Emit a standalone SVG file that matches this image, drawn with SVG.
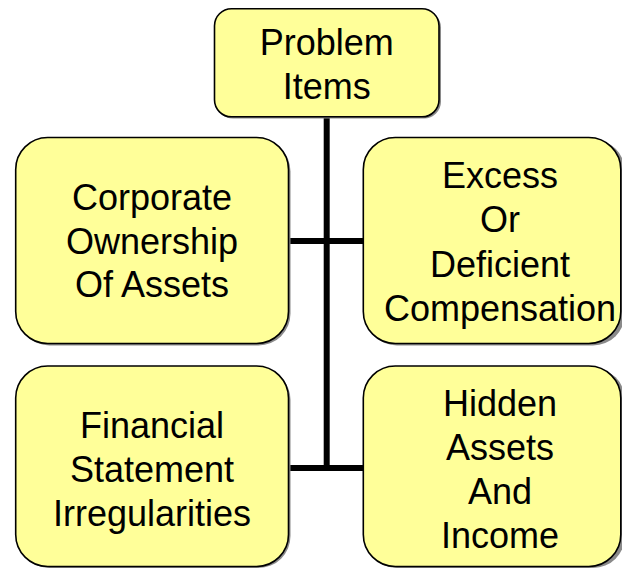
<svg xmlns="http://www.w3.org/2000/svg" width="622" height="568" viewBox="0 0 622 568">
<style>
.box{fill:#FFFF99;stroke:#000;stroke-width:1.6}
.sh{fill:#8a8a8a}
.t{font-family:"Liberation Sans",Arial,sans-serif;font-size:36px;fill:#000;text-anchor:middle}
.c{stroke:#000;stroke-width:6;fill:none}
</style>
<rect width="622" height="568" fill="#fff"/>
<g id="connectors">
<line class="c" x1="326.7" y1="117" x2="326.7" y2="471"/>
<line class="c" x1="288" y1="241" x2="364" y2="241"/>
<line class="c" x1="288" y1="468" x2="364" y2="468"/>
</g>
<g id="problem-items">
<rect class="sh" x="216" y="10.5" width="225" height="108" rx="17"/>
<rect class="box" x="214.5" y="8.8" width="224.5" height="108" rx="17"/>
<text class="t" x="326.7" y="55">Problem</text>
<text class="t" x="326.7" y="98.5">Items</text>
</g>
<g id="corporate-ownership">
<rect class="sh" x="17.5" y="139.5" width="273" height="206" rx="32"/>
<rect class="box" x="15.7" y="137.5" width="272.8" height="206" rx="32"/>
<text class="t" x="152" y="210">Corporate</text>
<text class="t" x="152" y="253.5">Ownership</text>
<text class="t" x="152" y="297">Of Assets</text>
</g>
<g id="excess-deficient">
<rect class="sh" x="365" y="139.5" width="260" height="206" rx="32"/>
<rect class="box" x="363.3" y="137.5" width="257.5" height="206" rx="32"/>
<text class="t" x="500" y="187.5">Excess</text>
<text class="t" x="500" y="232">Or</text>
<text class="t" x="500" y="276.5">Deficient</text>
<text class="t" x="500" y="320.5">Compensation</text>
</g>
<g id="financial-statement">
<rect class="sh" x="17.5" y="368" width="273" height="200" rx="32"/>
<rect class="box" x="15.7" y="366" width="272.8" height="200.5" rx="32"/>
<text class="t" x="152" y="437.5">Financial</text>
<text class="t" x="152" y="481.5">Statement</text>
<text class="t" x="152" y="525.5">Irregularities</text>
</g>
<g id="hidden-assets">
<rect class="sh" x="365" y="368" width="260" height="200" rx="32"/>
<rect class="box" x="363.3" y="366" width="257.5" height="200.5" rx="32"/>
<text class="t" x="500" y="416">Hidden</text>
<text class="t" x="500" y="460">Assets</text>
<text class="t" x="500" y="504">And</text>
<text class="t" x="500" y="548">Income</text>
</g>
</svg>
